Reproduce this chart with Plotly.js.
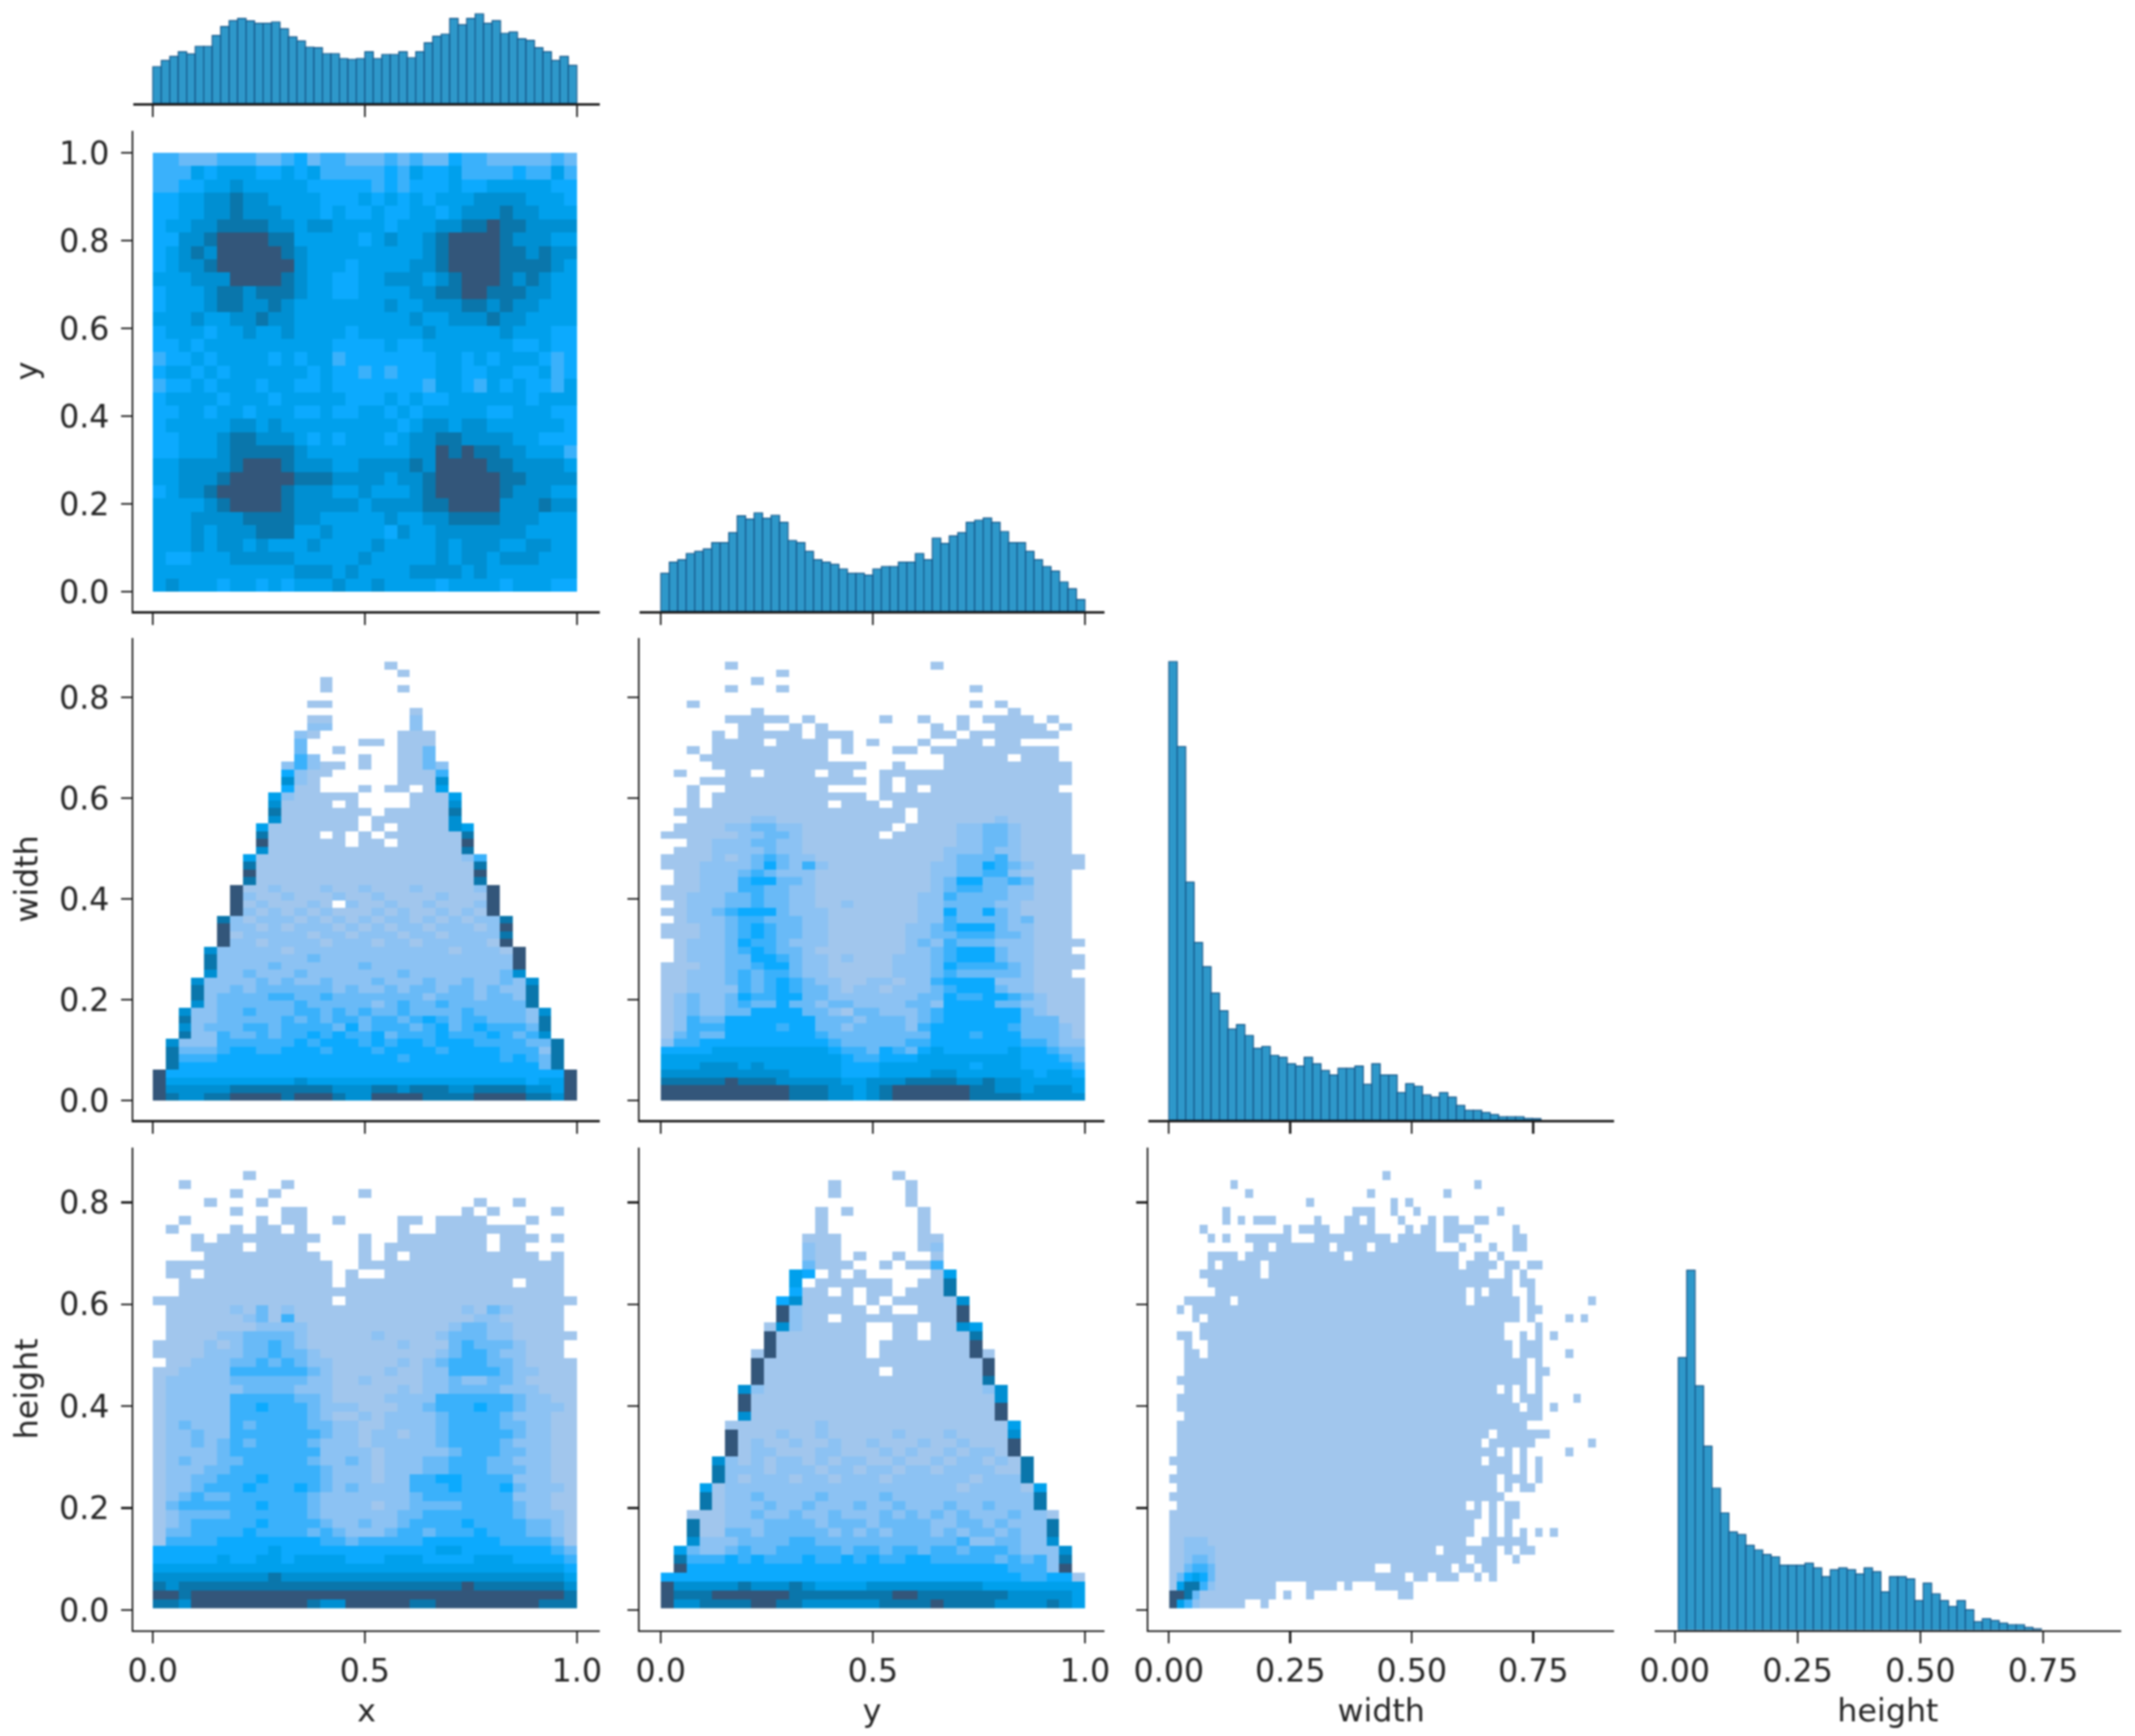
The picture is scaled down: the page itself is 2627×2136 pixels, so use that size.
<!DOCTYPE html>
<html><head><meta charset="utf-8">
<script src="https://cdn.plot.ly/plotly-3.0.1.min.js"></script>
<style>html,body{margin:0;padding:0;background:#fff}#chart{width:2627px;height:2136px;filter:blur(0.8px)}</style>
</head><body><div id="chart"></div>
<script>
// ---------- diagonal histograms (relative bar heights) ----------
const histX=[45,52.7,57.7,63.3,60.7,70,70,83.3,94.3,101.7,104.3,101.3,98.3,98.3,100,91.7,81.7,76.7,69,68.3,61,61,55,54,55,63.3,55,60,60,63.3,56,63.3,74.3,82.3,85,104.3,96.7,104.3,110,98.3,101.7,86,87.7,79.3,77.3,68.3,63.3,52.7,57.7,46.7];
const histY=[46.7,60.3,63.3,71,73.7,76.7,84.3,84.3,96.7,117.3,113.3,121,114.3,118,109.3,87,84.3,73.7,63.3,60.3,57.7,52,46.7,46.7,44.3,52,55,55,60.3,60.3,71,63.3,90,83.3,92.7,96.7,109.3,112,114.7,109.3,98,84.3,84.3,73.7,63.3,55,49.3,36,27.7,14.3];
const histWidth=[564,459.5,292.6,218.3,188.6,156.2,134.4,111.9,117.4,104,88.2,90.5,79.5,77.1,69.2,66.4,77.1,69.2,60.9,55.4,63.7,63.7,66.4,43.9,69.2,55.4,55.4,33.6,44.7,41.5,30.8,28.1,33.6,28.1,17.8,11.9,11.9,9.1,6.7,4,4,4,2,1.6];
const histHeight=[335.2,442.7,300.5,226.3,174.6,144.1,120.7,117.4,104.2,98.6,93,90.1,79.8,79.8,79.8,82.2,76.5,65.7,74.2,76.5,74.2,69,76.5,71.8,46.9,65.7,65.7,62.9,36.2,57.7,44.6,36.2,29.1,36.2,24.9,10.3,14.1,11.7,8.5,6.6,6.6,3.3,1.4];

// ---------- 2-D histograms: one string per row, top row first; 0 = empty, 1..9 = density level ----------
const xyRows=[
"44333 44433 45344 33343 43354 43333 343","44465 66655 65644 44454 65564 44454 464","44556 67666 66555 55454 55565 56666 655",
"55667 78776 66655 56565 65666 77776 665","55667 78777 66656 55655 66567 77877 666","56677 88887 76776 66656 66778 89887 777",
"55778 99998 86666 65676 67899 99877 766","56787 99999 87666 66666 67899 99887 877","56778 99999 97666 56666 77899 99888 876",
"66677 79999 87665 56677 76789 99878 766","56667 88788 87665 56666 77889 98887 766","56667 88778 76666 66676 67778 87877 666",
"66676 67787 76666 66666 76677 78776 666","56665 66766 76666 56666 67666 66766 655","55656 66666 66665 55565 56666 66655 655",
"45565 66665 65664 55555 55665 65666 545","56656 56666 66565 54545 55665 56655 645","45565 66656 65565 55555 54665 46565 546",
"56666 56665 66666 55565 65566 66665 666","55665 66566 65565 56656 56666 65566 655","56666 67767 66666 66665 67767 76666 665",
"55666 78877 76565 66656 77887 77766 555","55666 78888 87666 66666 77989 88776 664","66777 78999 87776 67777 87999 98877 776",
"66777 89999 98887 77767 78999 99887 777","56778 99999 87776 67666 78999 99877 766","66667 89999 87777 76777 78899 99777 877",
"66677 77888 87766 66676 67788 88777 666","66676 77788 86676 66657 66777 77776 666","66676 77676 66766 66766 66767 77667 766",
"65566 67777 76666 67666 66767 76777 666","66666 66666 67776 76666 77776 76666 666","67666 56656 56667 66766 66566 66566 655"];

const xWidthRows=[
"00000 00000 00000 00010 00000 00000 000","00000 00000 00000 00001 00000 00000 000","00000 00000 00010 00000 00000 00000 000",
"00000 00000 00010 00001 00000 00000 000","00000 00000 00000 00000 00000 00000 000","00000 00000 00110 00000 00000 00000 000",
"00000 00000 00000 00000 10000 00000 000","00000 00000 00110 00000 20000 00000 000","00000 00000 00220 00000 20000 00000 000",
"00000 00000 02100 00001 11000 00000 000","00000 00000 03000 01101 11000 00000 000","00000 00000 03001 00001 13000 00000 000",
"00000 00000 04200 01001 13000 00000 000","00000 00000 24211 01001 13200 00000 000","00000 00000 52110 00001 11400 00000 000",
"00000 00000 72100 00001 11700 00000 000","00000 00000 51100 01011 01600 00000 000","00000 00006 21111 10000 11160 00000 000",
"00000 00007 11110 10000 11170 00000 000","00000 00008 11111 11011 11180 00000 000","00000 00007 11111 10111 11170 00000 000",
"00000 00061 11111 10101 11176 00000 000","00000 00081 11101 01011 11118 00000 000","00000 00091 11111 01101 11119 00000 000",
"00000 00071 11111 11111 11118 00000 000","00000 00611 11111 11111 11112 40000 000","00000 00811 11111 11111 11111 80000 000",
"00000 00911 11111 11111 11111 90000 000","00000 00811 11111 11111 11111 80000 000","00000 09112 11121 12111 21111 29000 000",
"00000 09211 21112 11211 11211 19000 000","00000 09121 11210 21121 12111 29000 000","00000 09212 12121 11212 11212 19000 000",
"00000 82122 21212 12122 12121 22800 000","00000 92212 12221 21212 21222 12900 000","00000 91222 22122 12221 22122 22800 000",
"00000 92212 22212 22122 12222 21900 000","00007 22222 12222 22222 22212 22190 000","00008 22222 22322 22222 22222 22290 000",
"00008 22223 22222 23222 22222 22290 000","00007 22322 23222 22223 22222 22370 000","00072 22232 32232 22322 23223 22327 000",
"00082 23233 33332 32232 33233 23228 000","00082 33334 43343 33333 32333 23328 000","00072 33333 34333 33234 33433 33338 000",
"00722 33433 34434 34334 33334 33332 700","00822 33333 43434 43443 45434 43332 800","00723 33443 44443 53444 34534 54443 800",
"00822 43343 44545 44534 44544 45434 700","07222 44444 45455 54545 54555 44443 380","08333 45544 55545 55455 55455 55444 280",
"08444 55555 55555 55554 55555 55454 380","08555 55555 55555 55555 55555 55555 380","95555 55555 55555 55555 55555 55555 559",
"96666 66666 67666 66666 66666 66665 669","97777 78888 88887 77887 88877 88887 769","98778 89999 89998 77999 98888 99998 879"];

const yWidthRows=[
"00000 10000 00000 00000 01000 00000 000","00000 00001 00000 00000 00000 00000 000","00000 00100 00000 00000 00000 00000 000",
"00000 10001 00000 00000 00001 00000 000","00000 00000 00000 00000 00000 00000 000","00100 00000 00000 00000 00001 01000 000",
"00000 00100 00000 00000 00000 00100 000","00000 11111 01000 00100 10010 11110 100","00000 01100 10100 00000 01010 01111 010",
"00001 01111 10111 00000 01101 11111 100","00001 11101 11101 01000 10011 01100 000","00101 11111 11101 00011 01111 11111 100",
"00011 11111 11100 00000 00111 11011 100","00001 11111 11111 10010 00111 11111 110","01000 11011 11011 00111 11111 11111 110",
"00011 11111 11111 10101 11111 11111 110","00100 11111 11100 00101 01111 11111 100","00101 11111 11111 10111 11111 11111 110",
"00101 11111 11101 11011 11111 11111 110","01111 11111 11111 11110 11111 11111 110","00111 11221 11111 11110 11111 12111 110",
"01111 22332 21111 11101 11122 33211 110","11111 12233 21111 11011 11122 33211 110","00112 22332 21111 11111 11122 33211 110",
"01112 22232 21111 11111 11222 32211 110","11112 12343 22111 11111 11233 34211 111","11122 22353 24211 11111 12233 54321 111",
"01122 23432 22111 11111 12233 44211 110","01122 24553 32111 11111 12355 33431 110","11122 24433 22111 11111 12344 33221 110",
"11222 33433 22111 11111 22433 33221 110","01222 33433 22112 11111 22333 32211 110","11223 45553 22211 11111 22533 53211 110",
"01222 34433 32211 11111 22433 33231 110","11122 34543 32211 11112 23455 53221 110","11122 34543 32211 11112 23344 43321 110",
"01222 35443 22211 11112 32433 32221 111","01222 34543 32111 11112 23455 53221 110","01222 33554 32212 11122 23455 53221 111",
"11122 33455 32211 11122 23544 44321 111","11222 34344 32211 11122 23433 33321 110","11222 34345 43221 12212 24555 52221 111",
"11222 24345 43321 22122 23455 53221 111","12322 35445 53322 22222 33544 55432 111","12322 34335 33233 22223 32555 53322 111",
"12322 33555 53321 33222 34555 55532 111","12433 55555 55333 23332 34555 55533 311","12444 55554 55332 33332 45555 55433 321",
"13433 55555 55433 33333 35554 55533 321","24455 55555 55543 33334 45555 55544 322","55556 66666 66654 43543 56555 55655 433",
"66666 66666 66665 44555 66666 66655 543","66677 76766 66665 55666 66665 66655 554","77777 77777 66665 55666 67766 66665 665",
"88888 98887 77776 67778 88877 87766 666","99999 99999 88877 67899 99998 87767 776","99999 99999 88877 67899 99998 88877 777"];

const xHeightRows=[
"00000 00100 00000 00000 00000 00000 000","00100 00000 10000 00000 00000 00000 000","00000 01001 00000 01000 00000 00000 000",
"00001 00010 00000 00000 00000 10010 000","00000 01000 11000 00000 00001 01000 010","00100 00010 11001 00001 10111 10001 000",
"01000 01011 01000 00001 00111 11110 000","00010 11111 11100 01001 11111 10111 010","00011 11011 11000 01011 11111 10110 000",
"00001 11111 11100 01010 11111 11111 010","01111 11111 11110 01111 11111 11111 110","01101 11111 11110 10011 11111 11111 110",
"00111 11111 11110 11111 11111 11101 110","00111 11111 11111 11111 11111 11111 110","11111 11111 11110 11111 11111 11111 111",
"01111 12131 21111 11111 11112 13211 110","01111 11231 41111 11111 11111 22111 110","01111 11122 22111 11111 11123 32211 110",
"01111 22333 32111 11211 11233 32211 111","11112 12334 32111 11112 11134 33321 110","11112 22334 33211 11111 11234 43221 110",
"01122 23343 43221 11112 12344 43321 111","11222 24444 44321 11121 12244 44322 111","12222 23333 33221 12111 12232 23321 111",
"12222 22333 32221 11112 12233 33222 111","12222 24444 43321 11122 22444 44432 211","12222 24454 44322 21112 23444 54432 221",
"12222 24444 44321 12122 22344 44322 211","12322 24344 44332 21122 22344 44332 211","12232 24444 44432 21221 22344 44432 211",
"12232 34344 44322 21222 22344 44322 211","12222 34444 44422 22122 22234 44332 211","12322 33444 44322 32122 23344 43322 211",
"12223 34444 44432 22122 23344 43332 211","12233 44454 44432 22122 44554 44422 211","12234 44544 45432 32222 44454 44532 221",
"12343 34444 44322 22222 34444 44422 211","13444 44454 44322 22122 33334 44432 211","12333 34444 44322 22223 34444 44432 221",
"12344 44454 44432 23223 44445 44443 321","13344 44544 44343 22234 43444 54443 321","14444 55555 55544 34444 45555 55444 431",
"55555 55556 55555 55555 55665 55555 543","55555 65566 56666 55566 65555 66655 554","66666 66666 66666 66666 66666 66666 665",
"77777 77778 77777 77777 77777 77777 776","87888 88888 88888 88888 88889 88888 887","99899 99999 99999 99999 99999 99999 998",
"88799 99999 99877 99999 88999 99999 888"];

const yHeightRows=[
"00000 00000 00000 00010 00000 00000 000","00000 00000 00010 00001 00000 00000 000","00000 00000 00010 00001 00000 00000 000",
"00000 00000 00000 00001 00000 00000 000","00000 00000 00101 00000 10000 00000 000","00000 00000 00100 00000 10000 00000 000",
"00000 00000 00100 00000 10000 00000 000","00000 00000 01110 00000 11000 00000 000","00000 00000 02110 00000 12000 00000 000",
"00000 00000 02110 10010 01000 00000 000","00000 00000 03111 00101 14000 00000 000","00000 00000 65010 10000 01600 00000 000",
"00000 00000 60111 11100 11800 00000 000","00000 00000 51101 01101 11800 00000 000","00000 00005 71111 01011 11170 00000 000",
"00000 00009 21111 10100 11190 00000 000","00000 00009 21101 11111 11190 00000 000","00000 00017 21111 10011 01176 00000 000",
"00000 00091 11111 10011 01118 00000 000","00000 00091 11111 10111 11119 00000 000","00000 00191 11111 10111 11119 10000 000",
"00000 00911 11111 11111 11111 90000 000","00000 00911 11111 11011 11111 90000 000","00000 00911 11111 11111 11111 80000 000",
"00000 07211 11111 11111 11111 27000 000","00000 09111 11111 11111 11111 17000 000","00000 09111 11111 11111 11111 19000 000",
"00000 07111 11111 11111 11111 19000 000","00000 11111 11211 11111 11111 11600 000","00000 91112 11211 11121 11211 11700 000",
"00000 91211 21121 12111 21121 11900 000","00000 91221 11221 11212 11212 21900 000","00007 21212 21212 21121 12122 12180 000",
"00008 22212 22122 12212 21222 21180 000","00008 21222 12212 22122 22221 22280 000","00061 22222 22222 22222 22212 22216 000",
"00081 22322 22322 22322 22222 22228 000","00081 22232 23222 32232 22322 32228 000","00111 22322 32232 22323 23232 22322 100",
"00811 22233 33233 32333 32233 23222 800","00811 33233 33323 23233 32323 32322 800","00722 23333 44333 33333 33342 23322 700",
"06322 34334 44443 44344 34434 44322 270","08444 54544 45445 45445 54444 43434 280","09555 55555 55555 55555 55555 55444 290",
"55555 55555 55555 55555 55555 55544 551","97777 78777 87666 67777 77777 66666 666","98889 99999 88888 88899 88888 88777 776",
"97788 88998 87777 77888 89888 87777 876"];

const widthHeightRows=[
"00000000 00000000 00000000 00001000 00000000 00000000 00000000","00000000 10000000 00000000 00000000 00000000 10000000 00000000",
"00000000 00100000 00000000 00100000 00001000 00000000 00000000","00000000 00000000 00100000 00000101 00000000 00000000 00000000",
"00000001 00000000 00000000 11100100 10000000 00010000 00000000","00000001 01011100 00010001 10100010 00101100 11000000 00000000",
"00001000 00000001 01111001 11100001 01101111 00000100 00000000","00000101 00111111 00011111 11111011 11101100 10000110 00000000",
"00000000 00011011 11111011 11011111 11100010 00100110 00000000","00000111 10111111 11111110 11111111 11111100 11010000 00000000",
"00000101 11110111 11111111 11111111 11111101 11101101 10000000","00001111 11110111 11111111 11111111 11111111 11001010 00000000",
"00000111 11111111 11111111 11111111 11111111 11111011 00000000","00000011 11111111 11111111 11111111 11111110 10111001 00000000",
"00111111 01111111 11111111 11111111 11111110 11111101 00000001","01011111 11111111 11111111 11111111 11111111 11111101 10000000",
"00010111 11111111 11111111 11111111 11111111 11111101 00001010","00001111 11111111 11111111 11111111 11111111 11110000 10000000",
"01101111 11111111 11111111 11111111 11111111 11110010 10100000","00100111 11111111 11111111 11111111 11111111 11111011 10000000",
"00110111 11111111 11111111 11111111 11111111 11111011 10001000","00111111 11111111 11111111 11111111 11111111 11111110 10000000",
"00111111 11111111 11111111 11111111 11111111 11111110 11000000","01111111 11111111 11111111 11111111 11111111 11111110 10000000",
"00111111 11111111 11111111 11111111 11111111 11101010 10000000","01111111 11111111 11111111 11111111 11111111 11111011 10000100",
"01111111 11111111 11111111 11111111 11111111 11111101 10100000","00111111 11111111 11111111 11111111 11111111 11111111 10000000",
"01111111 11111111 11111111 11111111 11111111 11111110 00000000","01111111 11111111 11111111 11111111 11111111 11011111 11000000",
"01111111 11111111 11111111 11111111 11111111 10111111 00000001","01111111 11111111 11111111 11111111 11111111 11101010 00001000",
"11111111 11111111 11111111 11111111 11111111 10111010 10000000","01111111 11111111 11111111 11111111 11111111 11111010 10000000",
"11111111 11111111 11111111 11111111 11111111 11101110 10000000","01111111 11111111 11111111 11111111 11111111 11101011 00000000",
"11111111 11111111 11111111 11111111 11111111 11110000 00000000","01111111 11111111 11111111 11111111 11111110 10101100 00000000",
"11111111 11111111 11111111 11111111 11111111 10101100 00000000","11111111 11111111 11111111 11111111 11111111 00101000 00000000",
"11111111 11111111 11111111 11111111 11111111 00101010 10100000","11222111 11111111 11111111 11111111 11111110 01111110 00000000",
"11222211 11111111 11111111 11111111 11101111 11101011 00000000","11233211 11111111 11111111 11111111 11111110 11100100 00000000",
"11344311 11111111 11111111 11100111 11111011 01100000 00000000","13565311 11111111 11111111 11111110 11011100 10100000 00000000",
"16884211 11111100 00111101 00011111 00000000 00000000 00000000","99831111 11111101 00100000 00000011 00000000 00000000 00000000",
"96421111 11001000 00000000 00000000 00000000 00000000 00000000"];

// ---------- tick labels and axis names ----------
const unitTicks=[0,0.5,1], unitLabels=["0.0","0.5","1.0"];
const quarterTicks=[0,0.25,0.5,0.75], quarterLabels=["0.00","0.25","0.50","0.75"];
const fifthTicks=[0,0.2,0.4,0.6,0.8], fifthLabels=["0.0","0.2","0.4","0.6","0.8"];
const tenthTicks=[0,0.2,0.4,0.6,0.8,1], tenthLabels=["0.0","0.2","0.4","0.6","0.8","1.0"];
const varNames=["x","y","width","height"];

// ---------- page geometry (pixels) ----------
const W=2627,H=2136;
const cols=[{l:164,r:738,range:[-0.046,1.054],tv:unitTicks,tt:unitLabels},
            {l:787,r:1359,range:[-0.05,1.046],tv:unitTicks,tt:unitLabels},
            {l:1413,r:1986,range:[-0.042,0.916],tv:quarterTicks,tt:quarterLabels},
            {l:2036,r:2610,range:[-0.041,0.909],tv:quarterTicks,tt:quarterLabels}];
const rows=[{t:5,b:127},
            {t:161,b:752,range:[-0.0444,1.05],tv:tenthTicks,tt:tenthLabels},
            {t:785,b:1378,range:[-0.0387,0.918],tv:fifthTicks,tt:fifthLabels},
            {t:1412,b:2005.6,range:[-0.0392,0.9075],tv:fifthTicks,tt:fifthLabels}];

const textColor="#262626", lineColor="#1c1c1c", fontFam="'DejaVu Sans',sans-serif", fontSize=39;
const scale=[[0,"#a1c6ed"],[0.125,"#8cc2f3"],[0.25,"#69baf7"],[0.375,"#3ab1fb"],[0.5,"#0caafe"],
             [0.625,"#00a0ec"],[0.75,"#008fd2"],[0.875,"#0a76ab"],[1,"#33567a"]];

const parse=r=>r.map(s=>[...s.replace(/ /g,"")].map(c=>c==="0"?null:+c)).reverse();

// cells: row, col, then either a 2-D table or a histogram
const cells=[
 {r:0,c:0,hist:histX,start:0,dx:0.02},
 {r:1,c:0,rows:xyRows,dx:1/33,dy:1/33,x0:0,y0:0},
 {r:1,c:1,hist:histY,start:0,dx:0.02},
 {r:2,c:0,rows:xWidthRows,dx:1/33,dy:0.01528,x0:0,y0:0},
 {r:2,c:1,rows:yWidthRows,dx:1/33,dy:0.01528,x0:0,y0:0},
 {r:2,c:2,hist:histWidth,start:0,dx:0.0174},
 {r:3,c:0,rows:xHeightRows,dx:1/33,dy:0.0175,x0:0,y0:0.004},
 {r:3,c:1,rows:yHeightRows,dx:1/33,dy:0.0175,x0:0,y0:0.004},
 {r:3,c:2,rows:widthHeightRows,dx:0.01567,dy:0.0175,x0:0.001,y0:0.004},
 {r:3,c:3,hist:histHeight,start:0.007,dx:0.0172}
];

const data=[],layout={width:W,height:H,margin:{l:0,r:0,t:0,b:0,pad:0},paper_bgcolor:"#fff",plot_bgcolor:"rgba(0,0,0,0)",
  showlegend:false,bargap:0,font:{family:fontFam,size:fontSize,color:textColor}};

cells.forEach((cell,i)=>{
  const n=i+1,xa="x"+n,ya="y"+n,C=cols[cell.c],R=rows[cell.r];
  const bottomRow=cell.r===3;
  layout["xaxis"+n]={domain:[C.l/W,C.r/W],range:C.range,anchor:ya,showgrid:false,zeroline:false,showline:true,
    linecolor:lineColor,linewidth:2.5,ticks:"outside",ticklen:14,tickwidth:2.5,tickcolor:lineColor,
    tickmode:"array",tickvals:C.tv,ticktext:C.tt,showticklabels:bottomRow,ticklabelstandoff:0,
    tickfont:{family:fontFam,size:fontSize,color:textColor},fixedrange:true,
    title:bottomRow?{text:varNames[cell.c],font:{family:fontFam,size:fontSize,color:textColor},standoff:14}:undefined};
  const y={domain:[1-R.b/H,1-R.t/H],anchor:xa,showgrid:false,zeroline:false,fixedrange:true};
  if(cell.hist){
    y.range=[0,R.b-R.t]; y.visible=false; y.showline=false; y.showticklabels=false; y.ticks="";
    data.push({type:"bar",x:cell.hist.map((_,k)=>cell.start+(k+0.5)*cell.dx),y:cell.hist,width:cell.dx,xaxis:xa,yaxis:ya,
      marker:{color:"rgb(46,152,202)",line:{color:"rgb(18,80,130)",width:1.2}},hoverinfo:"x+y"});
  }else{
    Object.assign(y,{range:R.range,showline:true,linecolor:lineColor,linewidth:2.5,ticks:"outside",ticklen:13,tickwidth:2.5,
      tickcolor:lineColor,tickmode:"array",tickvals:R.tv,ticktext:R.tt,showticklabels:cell.c===0,ticklabelstandoff:6,
      tickfont:{family:fontFam,size:fontSize,color:textColor},
      title:cell.c===0?{text:varNames[cell.r],font:{family:fontFam,size:fontSize,color:textColor},standoff:14}:undefined});
    data.push({type:"heatmap",z:parse(cell.rows),x0:cell.x0+cell.dx/2,dx:cell.dx,y0:cell.y0+cell.dy/2,dy:cell.dy,
      xaxis:xa,yaxis:ya,colorscale:scale,zmin:1,zmax:9,showscale:false,hoverongaps:false,zsmooth:false});
  }
  layout["yaxis"+n]=y;
});
Plotly.newPlot("chart",data,layout,{staticPlot:true,displayModeBar:false});
</script></body></html>
